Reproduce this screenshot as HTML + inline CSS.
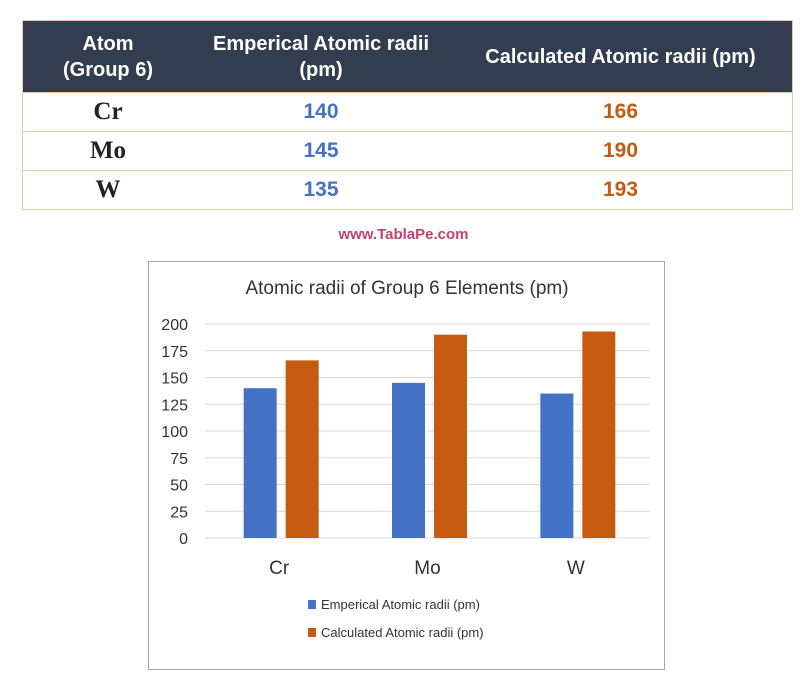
<!DOCTYPE html>
<html><head><meta charset="utf-8"><style>
body{margin:0;width:807px;height:695px;background:#fff;position:relative;font-family:"Liberation Sans",sans-serif;overflow:hidden}
table{position:absolute;left:22px;top:20px;width:771px;border-collapse:collapse;border:1px solid #e8c9a8}
th{background:#323d4f;color:#fff;font-weight:bold;font-size:20px;height:71px;padding:0;line-height:26px}
td{height:38px;border-top:1px solid #e8c9a8;text-align:center;font-weight:bold;font-size:21px;padding:0}
td.a{font-family:"Liberation Serif",serif;font-size:25px;color:#222}
td.b{color:#4472c4}td.c{color:#c55a11}
#site{position:absolute;left:0;width:807px;top:226px;text-align:center;color:#c0426e;font-weight:bold;font-size:15px}
</style></head><body>
<table>
<tr><th style="width:170px">Atom<br>(Group 6)</th><th style="width:256px">Emperical Atomic radii<br>(pm)</th><th>Calculated Atomic radii (pm)</th></tr>
<tr><td class="a">Cr</td><td class="b">140</td><td class="c">166</td></tr>
<tr><td class="a">Mo</td><td class="b">145</td><td class="c">190</td></tr>
<tr><td class="a">W</td><td class="b">135</td><td class="c">193</td></tr>
</table>
<div id="site">www.TablaPe.com</div>
<svg id="chart" width="807" height="695" style="position:absolute;left:0;top:0">
<rect x="148.5" y="261.5" width="516" height="408" fill="#fff" stroke="#a6a6a6"/>
<text x="407" y="294" text-anchor="middle" font-size="19" fill="#333">Atomic radii of Group 6 Elements (pm)</text>
<g id="plot"></g>
</svg>
<script>
const categories=["Cr","Mo","W"];
const emperical=[140,145,135];
const calculated=[166,190,193];
const ticks=[0,25,50,75,100,125,150,175,200];
const ns="http://www.w3.org/2000/svg";
const g=document.getElementById("plot");
const X0=205,X1=650,Y0=538,Y1=324;
const y=v=>Y0-(v/200)*(Y0-Y1);
const cw=(X1-X0)/categories.length;
const cx=i=>X0+cw*(i+0.5);
function mk(t,a){const e=document.createElementNS(ns,t);for(const k in a)e.setAttribute(k,a[k]);g.appendChild(e);return e;}
ticks.forEach(t=>{
 const l=mk("line",{x1:X0,x2:X1,y1:y(t),y2:y(t),stroke:"#d9d9d9"});
 
 
 const tx=mk("text",{x:188,y:y(t)+6,"text-anchor":"end","font-size":"16",fill:"#333"});
 tx.textContent=t;
 
 
});
categories.forEach((c,i)=>{
 const b1=mk("rect",{x:cx(i)-35.5,y:y(emperical[i]),width:33,height:Y0-y(emperical[i]),fill:"#4472c4"});
 
 
 const b2=mk("rect",{x:cx(i)+6.5,y:y(calculated[i]),width:33,height:Y0-y(calculated[i]),fill:"#c55a11"});
 
 
 const t=mk("text",{x:cx(i),y:574,"text-anchor":"middle","font-size":"19",fill:"#333"});
 t.textContent=c;
 
 
});
[["Emperical Atomic radii (pm)","#4472c4",605],["Calculated Atomic radii (pm)","#c55a11",633]].forEach(l=>{
 const r=mk("rect",{x:308,y:l[2]-5,width:8,height:9,fill:l[1]});
 
 
 const t=mk("text",{x:321,y:l[2]+4,"font-size":"13",fill:"#333"});
 t.textContent=l[0];
 
 
});
</script>
</body></html>
